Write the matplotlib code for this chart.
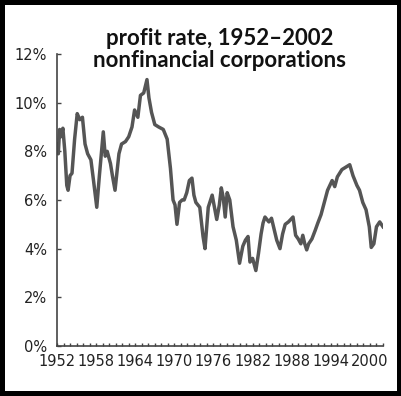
import matplotlib
matplotlib.use("Agg")
import matplotlib.pyplot as plt
from matplotlib import font_manager
from matplotlib.textpath import TextPath

# profit rate of nonfinancial corporations
years = [1952.0, 1952.2, 1952.4, 1952.6, 1952.9, 1953.2, 1953.5, 1953.7, 1954.0, 1954.3,
         1954.7, 1955.1, 1955.5, 1955.9, 1956.3, 1956.7, 1957.2, 1957.6, 1958.1, 1958.5,
         1959.1, 1959.4, 1959.7, 1960.2, 1960.5, 1960.9, 1961.5, 1961.9, 1962.5, 1963.0,
         1963.5, 1963.9, 1964.4, 1964.8, 1965.3, 1965.8, 1966.1, 1966.5, 1967.0, 1967.6,
         1968.3, 1968.9, 1969.4, 1969.8, 1970.1, 1970.4, 1970.8, 1971.2, 1971.5, 1971.9,
         1972.3, 1972.7, 1973.0, 1973.3, 1973.9, 1974.4, 1974.7, 1975.2, 1975.8, 1976.5,
         1976.9, 1977.2, 1977.5, 1977.8, 1978.1, 1978.5, 1979.0, 1979.5, 1980.0, 1980.5,
         1980.9, 1981.3, 1981.6, 1982.0, 1982.5, 1982.9, 1983.3, 1983.6, 1983.9, 1984.5,
         1984.9, 1985.3, 1985.7, 1986.2, 1986.6, 1987.0, 1987.5, 1988.2, 1988.6, 1989.0,
         1989.4, 1989.7, 1990.0, 1990.3, 1990.6, 1991.1, 1991.6, 1992.0, 1992.5, 1993.1,
         1993.5, 1994.2, 1994.6, 1995.0, 1995.7, 1996.3, 1996.9, 1997.4, 1998.0, 1998.4,
         1998.9, 1999.4, 1999.9, 2000.2, 2000.6, 2001.0, 2001.5, 2002.0]
rate = [8.3, 7.9, 8.9, 8.6, 8.95, 8.0, 6.6, 6.4, 7.0, 7.1,
        8.5, 9.55, 9.3, 9.4, 8.3, 7.9, 7.65, 6.8, 5.7, 7.0,
        8.8, 7.8, 8.0, 7.5, 7.0, 6.4, 7.9, 8.3, 8.4, 8.6,
        9.0, 9.7, 9.4, 10.3, 10.4, 10.95, 10.2, 9.6, 9.1, 9.0,
        8.9, 8.5, 7.3, 6.0, 5.8, 5.0, 5.9, 6.0, 6.0, 6.3,
        6.8, 6.9, 6.2, 5.9, 5.7, 4.5, 4.0, 5.7, 6.2, 5.2,
        5.8, 6.5, 6.1, 5.3, 6.3, 6.0, 4.9, 4.35, 3.4, 4.1,
        4.35, 4.5, 3.45, 3.6, 3.1, 3.8, 4.6, 5.05, 5.3, 5.1,
        5.25, 4.8, 4.35, 4.0, 4.6, 5.0, 5.1, 5.3, 4.55, 4.4,
        4.2, 4.55, 4.2, 3.95, 4.2, 4.4, 4.75, 5.05, 5.4, 6.0,
        6.4, 6.8, 6.55, 6.95, 7.25, 7.35, 7.45, 7.0, 6.6, 6.4,
        5.9, 5.6, 4.9, 4.05, 4.2, 4.9, 5.1, 4.9]

year_ticks = [1952, 1958, 1964, 1970, 1976, 1982, 1988, 1994, 2000]
pct_ticks = [0, 2, 4, 6, 8, 10, 12]

# the tick labels are set in a narrow upright face; use one if the system has it
narrow = [f for f in font_manager.fontManager.ttflist
          if ('Narrow' in f.name or 'Condensed' in f.name or f.stretch == 'condensed')
          and f.style == 'normal' and f.weight in (400, 'normal', 'regular')]
if narrow:
    tick_font = font_manager.FontProperties(fname=narrow[0].fname, size=12)
else:
    tick_font = font_manager.FontProperties(family='DejaVu Sans', size=12)
# scale so that "1952" is about 34 px wide, as in the reference
w = TextPath((0, 0), '1952', prop=tick_font).get_extents().width
tick_font.set_size(min(13.0, 12 * 24.5 / w))

fig = plt.figure(figsize=(4.02, 3.96), dpi=100)
fig.patch.set_facecolor('white')
fig.patch.set_edgecolor('black')
fig.patch.set_linewidth(6)

ax = fig.add_axes([0.1418, 0.1263, 0.8109, 0.7373])
ax.plot(years, rate, color='#555555', lw=2.5, solid_joinstyle='round')

ax.set_xlim(1952, 2002)
ax.set_ylim(0, 12)
ax.set_xticks(year_ticks)
ax.set_xticks(range(1952, 2003), minor=True)
ax.set_yticks(pct_ticks)
ax.set_xticklabels([str(y) for y in year_ticks], fontproperties=tick_font, color='#222222')
ax.set_yticklabels([f'{p}%' for p in pct_ticks], fontproperties=tick_font, color='#222222')

for s in ['top', 'right']:
    ax.spines[s].set_visible(False)
for s in ['left', 'bottom']:
    ax.spines[s].set_color('#444444')
    ax.spines[s].set_linewidth(1.2)

ax.tick_params(axis='x', which='both', direction='in', length=2.5, width=1, color='#444444', pad=6)
ax.tick_params(axis='y', direction='in', length=3, width=1, color='#444444', pad=7)

fig.text(0.547, 0.876, 'profit rate, 1952–2002\nnonfinancial corporations',
         ha='center', va='center', fontsize=16, fontweight='bold',
         family=['Lato', 'DejaVu Sans'], linespacing=1.05, color='#111111')

fig.savefig('out.png', dpi=100)
